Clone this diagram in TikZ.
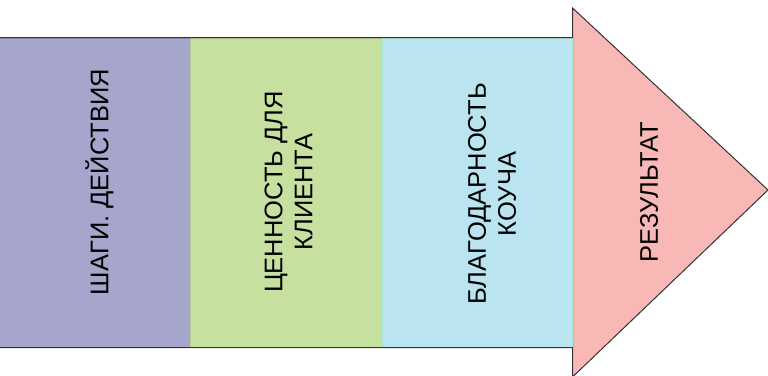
\documentclass[tikz,border=0pt]{standalone}
\usepackage{fontspec}
\setmainfont{Liberation Sans}
\definecolor{cpurple}{HTML}{A6A6CC}
\definecolor{cgreen}{HTML}{C6E19F}
\definecolor{cblue}{HTML}{BAE4F0}
\definecolor{cpink}{HTML}{F8B8B6}
\definecolor{outl}{HTML}{333333}
\begin{document}
\begin{tikzpicture}[x=1pt,y=-1pt,
  lbl/.style={rotate=90,align=center,font=\fontsize{25.5}{30}\selectfont,text=black,inner sep=0pt},
  band/.style={line width=0.6pt}]
\useasboundingbox (0,0) rectangle (768,375);
% arrow
\coordinate (a1) at (0,37.5);
\coordinate (a2) at (572.5,37.5);
\coordinate (a3) at (572.5,8);
\coordinate (tip) at (768,190);
\coordinate (a5) at (572.5,377);
\coordinate (a6) at (572.5,347.5);
\coordinate (a7) at (0,347.5);
\fill[cpink] (a1) -- (a2) -- (a3) -- (tip) -- (a5) -- (a6) -- (a7) -- cycle;
% bands
\draw[band,fill=cpurple,draw=cpurple!90!black] (-1,38) rectangle (190,347);
\draw[band,fill=cgreen,draw=cgreen!90!black] (190,38) rectangle (382.5,347);
\draw[band,fill=cblue,draw=cblue!90!green] (382.5,38) rectangle (572.5,347);
\draw[line width=1.2pt,draw=cpink!80!gray] (573.5,38) -- (573.5,347);
% outline
\draw[outl,line width=1pt,line join=miter] (a1) -- (a2) -- (a3) -- (tip) -- (a5) -- (a6) -- (a7);
% labels
\node[lbl] (t1) at (99.5,182) {ШАГИ. ДЕЙСТВИЯ};
\node[lbl] (t2) at (288.5,192) {ЦЕННОСТЬ ДЛЯ\\КЛИЕНТА};
\node[lbl] (t3) at (492,194) {БЛАГОДАРНОСТЬ\\КОУЧА};
\node[lbl] (t4) at (649,192) {РЕЗУЛЬТАТ};
\end{tikzpicture}
\end{document}
